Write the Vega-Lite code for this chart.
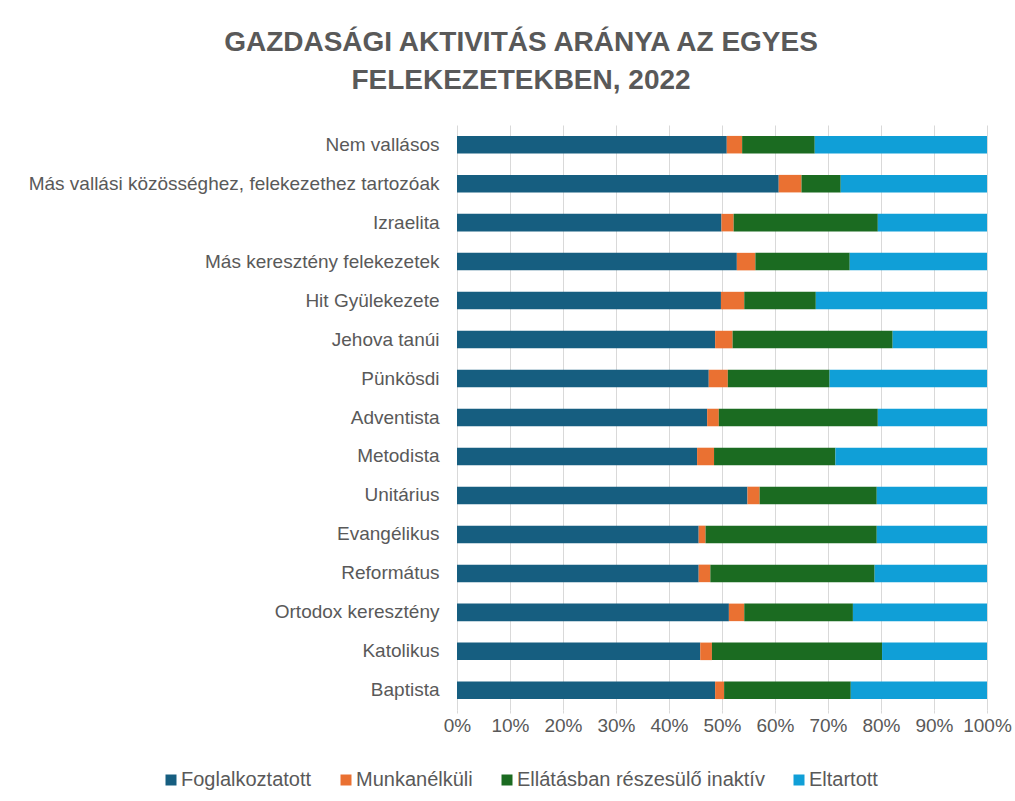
{
  "$schema": "https://vega.github.io/schema/vega-lite/v6.json",
  "width": 530,
  "height": 585,
  "autosize": {"type": "none"},
  "padding": {"left": 457, "top": 125, "right": 28, "bottom": 91},
  "background": "white",
  "config": {
    "view": {"stroke": null},
    "font": "Liberation Sans"
  },
  "title": {
    "text": ["GAZDASÁGI AKTIVITÁS ARÁNYA AZ EGYES", "FELEKEZETEKBEN, 2022"],
    "fontSize": 28,
    "fontWeight": "bold",
    "color": "#595959",
    "anchor": "middle",
    "frame": "group",
    "dx": -201,
    "offset": 30,
    "lineHeight": 38
  },
  "data": {
    "values": [
      {"rel": "Nem vallásos", "cat": "Foglalkoztatott", "v": 50.9},
      {"rel": "Nem vallásos", "cat": "Munkanélküli", "v": 2.9},
      {"rel": "Nem vallásos", "cat": "Ellátásban részesülő inaktív", "v": 13.7},
      {"rel": "Nem vallásos", "cat": "Eltartott", "v": 32.5},
      {"rel": "Más vallási közösséghez, felekezethez tartozóak", "cat": "Foglalkoztatott", "v": 60.7},
      {"rel": "Más vallási közösséghez, felekezethez tartozóak", "cat": "Munkanélküli", "v": 4.3},
      {"rel": "Más vallási közösséghez, felekezethez tartozóak", "cat": "Ellátásban részesülő inaktív", "v": 7.4},
      {"rel": "Más vallási közösséghez, felekezethez tartozóak", "cat": "Eltartott", "v": 27.6},
      {"rel": "Izraelita", "cat": "Foglalkoztatott", "v": 49.9},
      {"rel": "Izraelita", "cat": "Munkanélküli", "v": 2.3},
      {"rel": "Izraelita", "cat": "Ellátásban részesülő inaktív", "v": 27.2},
      {"rel": "Izraelita", "cat": "Eltartott", "v": 20.6},
      {"rel": "Más keresztény felekezetek", "cat": "Foglalkoztatott", "v": 52.8},
      {"rel": "Más keresztény felekezetek", "cat": "Munkanélküli", "v": 3.5},
      {"rel": "Más keresztény felekezetek", "cat": "Ellátásban részesülő inaktív", "v": 17.8},
      {"rel": "Más keresztény felekezetek", "cat": "Eltartott", "v": 25.9},
      {"rel": "Hit Gyülekezete", "cat": "Foglalkoztatott", "v": 49.8},
      {"rel": "Hit Gyülekezete", "cat": "Munkanélküli", "v": 4.4},
      {"rel": "Hit Gyülekezete", "cat": "Ellátásban részesülő inaktív", "v": 13.5},
      {"rel": "Hit Gyülekezete", "cat": "Eltartott", "v": 32.3},
      {"rel": "Jehova tanúi", "cat": "Foglalkoztatott", "v": 48.7},
      {"rel": "Jehova tanúi", "cat": "Munkanélküli", "v": 3.3},
      {"rel": "Jehova tanúi", "cat": "Ellátásban részesülő inaktív", "v": 30.2},
      {"rel": "Jehova tanúi", "cat": "Eltartott", "v": 17.8},
      {"rel": "Pünkösdi", "cat": "Foglalkoztatott", "v": 47.5},
      {"rel": "Pünkösdi", "cat": "Munkanélküli", "v": 3.6},
      {"rel": "Pünkösdi", "cat": "Ellátásban részesülő inaktív", "v": 19.2},
      {"rel": "Pünkösdi", "cat": "Eltartott", "v": 29.7},
      {"rel": "Adventista", "cat": "Foglalkoztatott", "v": 47.2},
      {"rel": "Adventista", "cat": "Munkanélküli", "v": 2.2},
      {"rel": "Adventista", "cat": "Ellátásban részesülő inaktív", "v": 30.0},
      {"rel": "Adventista", "cat": "Eltartott", "v": 20.6},
      {"rel": "Metodista", "cat": "Foglalkoztatott", "v": 45.3},
      {"rel": "Metodista", "cat": "Munkanélküli", "v": 3.2},
      {"rel": "Metodista", "cat": "Ellátásban részesülő inaktív", "v": 22.9},
      {"rel": "Metodista", "cat": "Eltartott", "v": 28.6},
      {"rel": "Unitárius", "cat": "Foglalkoztatott", "v": 54.8},
      {"rel": "Unitárius", "cat": "Munkanélküli", "v": 2.3},
      {"rel": "Unitárius", "cat": "Ellátásban részesülő inaktív", "v": 22.1},
      {"rel": "Unitárius", "cat": "Eltartott", "v": 20.8},
      {"rel": "Evangélikus", "cat": "Foglalkoztatott", "v": 45.6},
      {"rel": "Evangélikus", "cat": "Munkanélküli", "v": 1.3},
      {"rel": "Evangélikus", "cat": "Ellátásban részesülő inaktív", "v": 32.3},
      {"rel": "Evangélikus", "cat": "Eltartott", "v": 20.8},
      {"rel": "Református", "cat": "Foglalkoztatott", "v": 45.6},
      {"rel": "Református", "cat": "Munkanélküli", "v": 2.2},
      {"rel": "Református", "cat": "Ellátásban részesülő inaktív", "v": 31.0},
      {"rel": "Református", "cat": "Eltartott", "v": 21.2},
      {"rel": "Ortodox keresztény", "cat": "Foglalkoztatott", "v": 51.3},
      {"rel": "Ortodox keresztény", "cat": "Munkanélküli", "v": 2.9},
      {"rel": "Ortodox keresztény", "cat": "Ellátásban részesülő inaktív", "v": 20.5},
      {"rel": "Ortodox keresztény", "cat": "Eltartott", "v": 25.3},
      {"rel": "Katolikus", "cat": "Foglalkoztatott", "v": 45.9},
      {"rel": "Katolikus", "cat": "Munkanélküli", "v": 2.2},
      {"rel": "Katolikus", "cat": "Ellátásban részesülő inaktív", "v": 32.1},
      {"rel": "Katolikus", "cat": "Eltartott", "v": 19.8},
      {"rel": "Baptista", "cat": "Foglalkoztatott", "v": 48.7},
      {"rel": "Baptista", "cat": "Munkanélküli", "v": 1.7},
      {"rel": "Baptista", "cat": "Ellátásban részesülő inaktív", "v": 23.9},
      {"rel": "Baptista", "cat": "Eltartott", "v": 25.7}
    ]
  },
  "mark": {"type": "bar"},
  "encoding": {
    "y": {
      "field": "rel",
      "type": "nominal",
      "sort": null,
      "title": null,
      "scale": {"paddingInner": 0.55, "paddingOuter": 0.28},
      "axis": {
        "labelFontSize": 19,
        "labelColor": "#595959",
        "labelPadding": 18,
        "ticks": false,
        "domain": false,
        "labelLimit": 500
      }
    },
    "x": {
      "field": "v",
      "type": "quantitative",
      "stack": "normalize",
      "title": null,
      "scale": {"domain": [0, 1], "nice": false},
      "axis": {
        "values": [0, 0.1, 0.2, 0.3, 0.4, 0.5, 0.6, 0.7, 0.8, 0.9, 1],
        "format": ".0%",
        "labelFontSize": 19,
        "labelColor": "#595959",
        "labelPadding": 3,
        "labelOverlap": false,
        "labelFlush": false,
        "domain": false,
        "ticks": true,
        "tickColor": "#d9d9d9",
        "tickSize": 3,
        "grid": true,
        "gridColor": "#d9d9d9",
        "gridWidth": 1
      }
    },
    "color": {
      "field": "cat",
      "type": "nominal",
      "sort": ["Foglalkoztatott", "Munkanélküli", "Ellátásban részesülő inaktív", "Eltartott"],
      "scale": {
        "domain": ["Foglalkoztatott", "Munkanélküli", "Ellátásban részesülő inaktív", "Eltartott"],
        "range": ["#165E80", "#EA7132", "#1B6B21", "#109FD7"]
      },
      "legend": {
        "title": null,
        "orient": "none",
        "direction": "horizontal",
        "legendX": -296,
        "legendY": 645,
        "symbolType": "square",
        "symbolSize": 121,
        "symbolStrokeWidth": 0,
        "labelFontSize": 20,
        "labelColor": "#595959",
        "labelLimit": 400,
        "columnPadding": 24,
        "symbolOffset": 0,
        "labelOffset": 0
      }
    },
    "order": {"field": "o"}
  }
}
